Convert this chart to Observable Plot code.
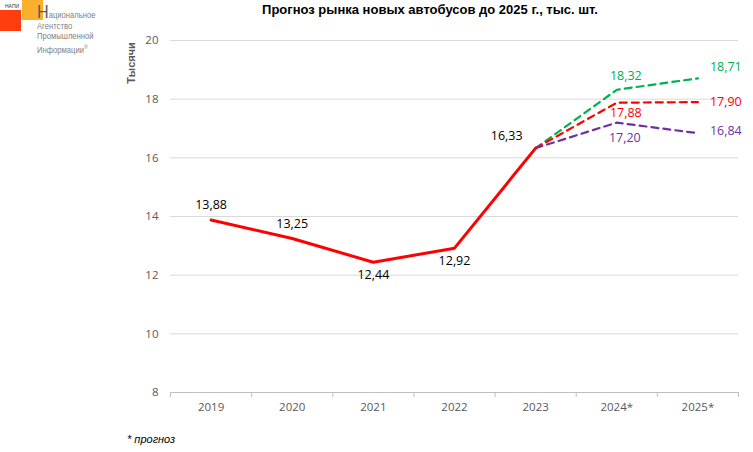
<!DOCTYPE html>
<html><head><meta charset="utf-8">
<script src="https://cdn.jsdelivr.net/npm/d3@7"></script>
<script src="https://cdn.jsdelivr.net/npm/@observablehq/plot@0.6"></script>
<style>
body{margin:0;background:#fff;}
#wrap{position:relative;width:753px;height:452px;overflow:hidden;font-family:"Open Sans",sans-serif;}
#title{position:absolute;left:0;width:860px;top:2px;text-align:center;font:bold 13px "Liberation Sans",Arial,sans-serif;color:#000;}
#ylab{position:absolute;left:131px;top:63px;transform:translate(-50%,-50%) rotate(-90deg);font:bold 11px "Liberation Sans",Arial,sans-serif;color:#595959;white-space:nowrap;}
#cap{position:absolute;left:127px;top:433px;font:italic 11px "Liberation Sans",Arial,sans-serif;color:#000;}
.sq{position:absolute;}
#logo-t{position:absolute;left:37px;top:4px;font:9px "Liberation Sans",Arial,sans-serif;color:#7f7f7f;line-height:10.5px;transform:scaleX(0.85);transform-origin:left top;white-space:nowrap;}
#napi{position:absolute;left:5px;top:3px;font:5px "Liberation Sans",Arial,sans-serif;color:#333;}
</style></head>
<body>
<div id="wrap">
  <div id="chart"></div>
  <div class="sq" style="left:0;top:10px;width:21px;height:21px;background:#ff3d0f"></div>
  <div class="sq" style="left:22px;top:0;width:21px;height:20px;background:#fbb02d"></div>
  <div id="napi">НАПИ</div>
  <div id="logo-t"><span style="font-size:19px;color:#595959;line-height:16px">Н</span>ациональное<br>Агентство<br>Промышленной<br>Информации<sup style="font-size:6px">®</sup></div>
  <div id="title">Прогноз рынка новых автобусов до 2025 г., тыс. шт.</div>
  <div id="ylab">Тысячи</div>
  <div id="cap">* прогноз</div>
</div>
<script>
const years = ["2019","2020","2021","2022","2023","2024*","2025*"];
const actualYears = ["2019","2020","2021","2022","2023"];
const actual = [13.88,13.25,12.44,12.92,16.33];
const forecastYears = ["2023","2024*","2025*"];
const optimistic = [16.33,18.32,18.71];
const baseline = [16.33,17.88,17.90];
const pessimistic = [16.33,17.20,16.84];
const yTicks = [8,10,12,14,16,18,20];

const fmt = v => v.toFixed(2).replace(".", ",");
const xi = y => years.indexOf(y);
const act = actualYears.map((y,i)=>({x:xi(y), v:actual[i]}));
const ser = (vals) => forecastYears.map((y,i)=>({x:xi(y), v:vals[i]}));
const opt = ser(optimistic), bas = ser(baseline), pes = ser(pessimistic);
const colors = {opt:"#00b050", bas:"#ff0000", pes:"#7030a0"};

const chart = Plot.plot({
  width:753, height:452,
  marginLeft:170, marginRight:15, marginTop:40, marginBottom:60,
  style:{fontFamily:"Open Sans", fontSize:"11.5px", color:"#595959", background:"transparent"},
  x:{type:"linear", domain:[-0.5, years.length-0.5]},
  y:{domain:[8,20]},
  marks:[
    Plot.gridY(yTicks.filter(t=>t>8), {stroke:"#d9d9d9", strokeOpacity:1}),
    Plot.ruleY([8], {stroke:"#bfbfbf"}),
    Plot.axisY({ticks:yTicks, tickSize:0, tickPadding:12, label:null, fill:"#595959"}),
    Plot.axisX({ticks:d3.range(years.length), tickSize:0, tickPadding:10, tickFormat:i=>years[i], label:null, fill:"#595959"}),
    Plot.axisX({ticks:d3.range(years.length+1).map(i=>i-0.5), tickSize:5, tickFormat:()=>"", label:null, stroke:"#bfbfbf"}),
    Plot.line(opt, {x:"x", y:"v", stroke:colors.opt, strokeWidth:2.2, strokeDasharray:"7,5"}),
    Plot.line(bas, {x:"x", y:"v", stroke:colors.bas, strokeWidth:2.2, strokeDasharray:"7,5"}),
    Plot.line(pes, {x:"x", y:"v", stroke:colors.pes, strokeWidth:2.2, strokeDasharray:"7,5"}),
    Plot.line(act, {x:"x", y:"v", stroke:"#ff0000", strokeWidth:3}),
    Plot.text(act.slice(0,2), {x:"x", y:"v", text:d=>fmt(d.v), dy:-15, fontSize:12.5, fill:"#000"}),
    Plot.text(act.slice(2,4), {x:"x", y:"v", text:d=>fmt(d.v), dy:13, fontSize:12.5, fill:"#000"}),
    Plot.text(act.slice(4), {x:"x", y:"v", text:d=>fmt(d.v), dx:-29, dy:-12, fontSize:12.5, fill:"#000"}),
    Plot.text(opt.slice(1,2), {x:"x", y:"v", text:d=>fmt(d.v), dx:9, dy:-14, fontSize:12.5, fill:colors.opt}),
    Plot.text(bas.slice(1,2), {x:"x", y:"v", text:d=>fmt(d.v), dx:9, dy:10, fontSize:12.5, fill:colors.bas}),
    Plot.text(pes.slice(1,2), {x:"x", y:"v", text:d=>fmt(d.v), dx:8, dy:15, fontSize:12.5, fill:colors.pes}),
    Plot.text(opt.slice(2), {x:"x", y:"v", text:d=>fmt(d.v), dx:12, dy:-11, textAnchor:"start", fontSize:12.5, fill:colors.opt}),
    Plot.text(bas.slice(2), {x:"x", y:"v", text:d=>fmt(d.v), dx:12, dy:0, textAnchor:"start", fontSize:12.5, fill:colors.bas}),
    Plot.text(pes.slice(2), {x:"x", y:"v", text:d=>fmt(d.v), dx:12, dy:-2, textAnchor:"start", fontSize:12.5, fill:colors.pes})
  ]
});
document.getElementById("chart").appendChild(chart);
</script>
</body></html>
